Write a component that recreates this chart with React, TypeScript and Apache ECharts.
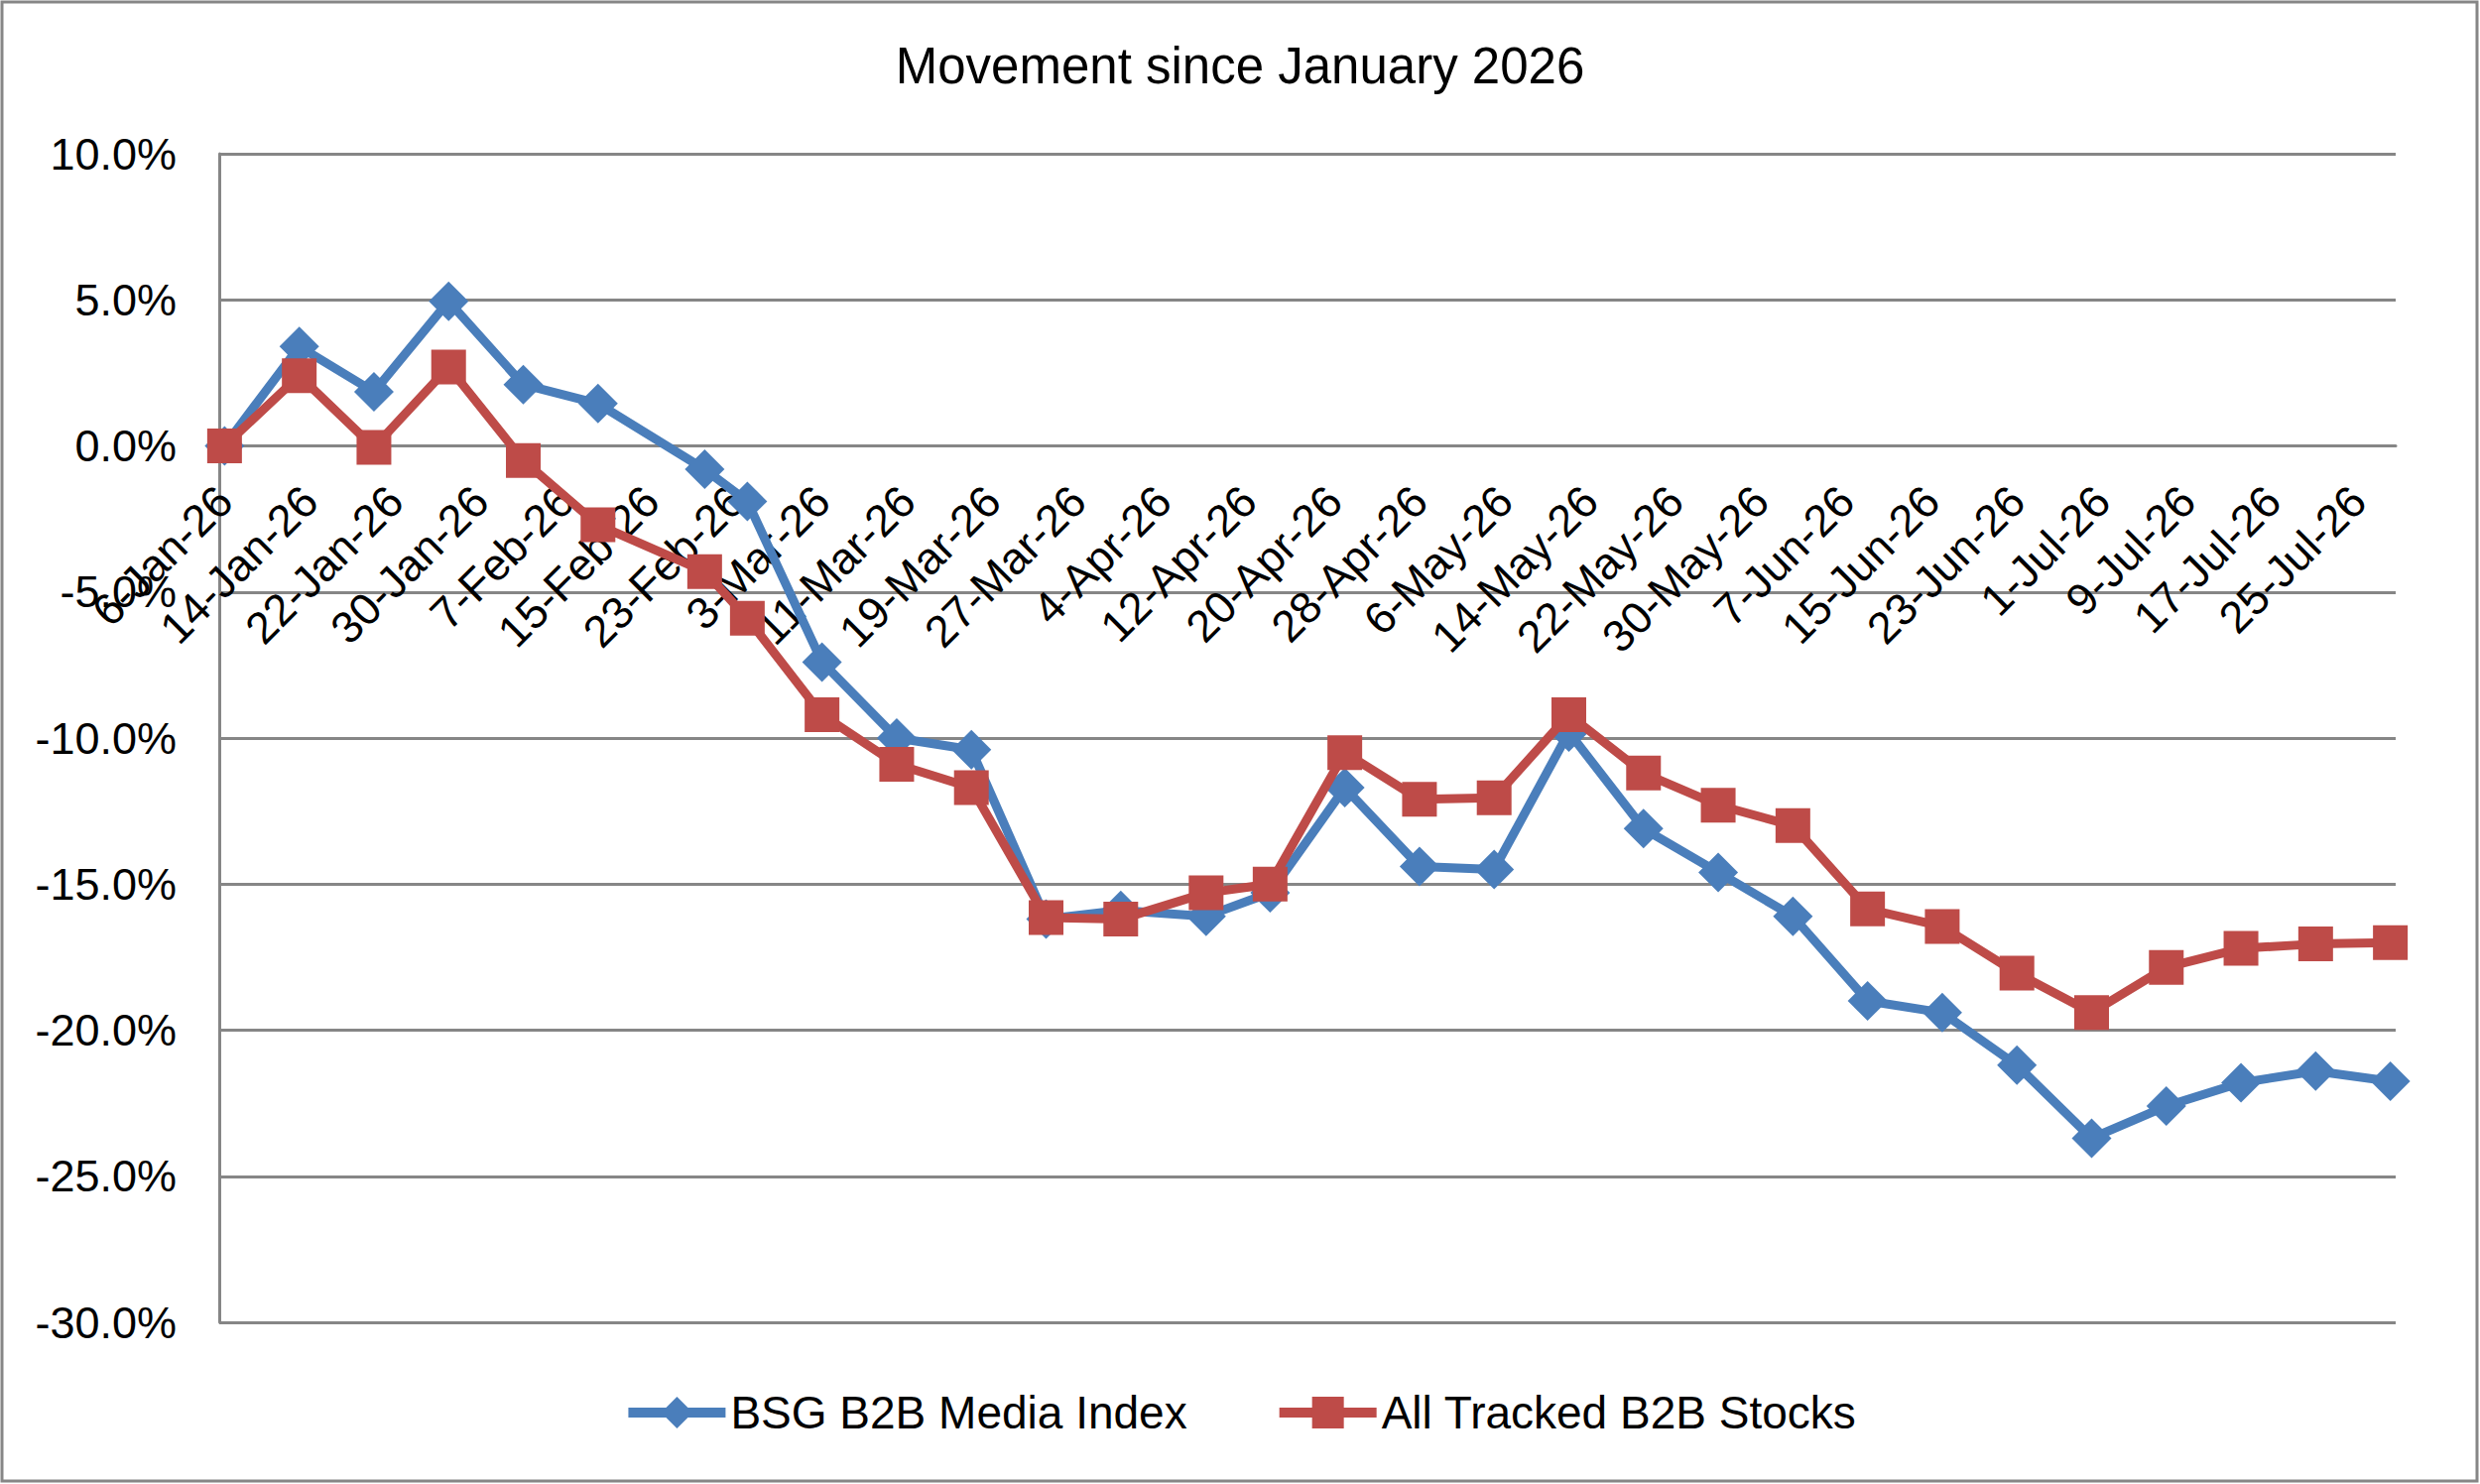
import React, { useEffect, useRef } from 'react'
import * as echarts from 'echarts'

// weekly observation dates
const dates = [
  '2026-01-06', '2026-01-13', '2026-01-20', '2026-01-27', '2026-02-03', '2026-02-10',
  '2026-02-20', '2026-02-24', '2026-03-03', '2026-03-10', '2026-03-17', '2026-03-24',
  '2026-03-31', '2026-04-08', '2026-04-14', '2026-04-21', '2026-04-28', '2026-05-05',
  '2026-05-12', '2026-05-19', '2026-05-26', '2026-06-02', '2026-06-09', '2026-06-16',
  '2026-06-23', '2026-06-30', '2026-07-07', '2026-07-14', '2026-07-21', '2026-07-28'
]

const bsgIndex = [
  0, 3.4, 1.85, 4.95, 2.1, 1.45, -0.8, -1.9, -7.4, -10.0, -10.4, -16.2,
  -15.9, -16.1, -15.3, -11.7, -14.4, -14.5, -9.8, -13.1, -14.6, -16.1, -19.0, -19.4,
  -21.2, -23.7, -22.6, -21.8, -21.4, -21.75
]

const allTracked = [
  0, 2.4, -0.05, 2.7, -0.5, -2.7, -4.3, -5.9, -9.2, -10.9, -11.7, -16.15,
  -16.2, -15.3, -15.0, -10.5, -12.1, -12.05, -9.2, -11.2, -12.3, -13.0, -15.85, -16.45,
  -18.05, -19.4, -17.85, -17.2, -17.05, -17.0
]

const tickLabels = [
  '6-Jan-26', '14-Jan-26', '22-Jan-26', '30-Jan-26', '7-Feb-26', '15-Feb-26', '23-Feb-26',
  '3-Mar-26', '11-Mar-26', '19-Mar-26', '27-Mar-26', '4-Apr-26', '12-Apr-26', '20-Apr-26',
  '28-Apr-26', '6-May-26', '14-May-26', '22-May-26', '30-May-26', '7-Jun-26', '15-Jun-26',
  '23-Jun-26', '1-Jul-26', '9-Jul-26', '17-Jul-26', '25-Jul-26'
]

const Y_MIN = -30
const Y_MAX = 10

const MONTHS = ['Jan', 'Feb', 'Mar', 'Apr', 'May', 'Jun', 'Jul', 'Aug', 'Sep', 'Oct', 'Nov', 'Dec']
const START = Date.UTC(2026, 0, 6)
const DAY = 86400000

const isoToDay = (s: string) => {
  const [y, m, d] = s.split('-').map(Number)
  return (Date.UTC(y, m - 1, d) - START) / DAY
}
const labelToDay = (s: string) => {
  const [d, mon, yy] = s.split('-')
  return (Date.UTC(2000 + Number(yy), MONTHS.indexOf(mon), Number(d)) - START) / DAY
}

const FONT = '"Liberation Sans", Arial, sans-serif'
const GRID_COLOR = '#868686'
const BLUE = '#4a7ebb'
const RED = '#be4b48'

const GRID_TOP = 155
const GRID_BOTTOM = 163
const H = 1496

const App: React.FC = () => {
  const chartRef = useRef<HTMLDivElement>(null)

  useEffect(() => {
    document.body.style.margin = '0'
    if (!chartRef.current) return
    const chart = echarts.init(chartRef.current, undefined, { renderer: 'svg' })

    const days = dates.map(isoToDay)
    const tickDays = tickLabels.map(labelToDay)

    // the date axis crosses the value axis at 0%
    const plotH = H - GRID_TOP - GRID_BOTTOM
    const zeroOffset = -plotH * (0 - Y_MIN) / (Y_MAX - Y_MIN)

    const option: echarts.EChartsOption = {
      animation: false,
      backgroundColor: '#ffffff',
      textStyle: { fontFamily: FONT },
      title: {
        text: 'Movement since January 2026',
        left: 'center',
        top: 41,
        padding: 0,
        textStyle: { fontFamily: FONT, fontSize: 51, fontWeight: 'normal', color: '#000', lineHeight: 51 }
      },
      graphic: [
        {
          type: 'rect',
          shape: { x: 2, y: 2, width: 2495, height: 1491 },
          style: { fill: 'none', stroke: GRID_COLOR, lineWidth: 3 },
          silent: true
        }
      ],
      grid: { left: 221, right: 85, top: GRID_TOP, bottom: GRID_BOTTOM, outerBoundsMode: 'none' } as any,
      legend: {
        top: 1396,
        left: 'center',
        itemWidth: 98,
        itemHeight: 40,
        itemGap: 88,
        lineStyle: { width: 10 },
        textStyle: { fontFamily: FONT, fontSize: 46, color: '#000' },
        data: ['BSG B2B Media Index', 'All Tracked B2B Stocks']
      },
      xAxis: {
        type: 'value',
        min: -0.5,
        max: 203.5,
        offset: zeroOffset,
        splitLine: { show: false },
        axisTick: { show: false },
        axisLine: { show: true, onZero: false, lineStyle: { color: GRID_COLOR, width: 3 } },
        axisLabel: {
          customValues: tickDays,
          rotate: 45,
          margin: 48,
          fontFamily: FONT,
          fontSize: 45,
          color: '#000',
          formatter: (v: number) => {
            const i = tickDays.indexOf(v)
            return i >= 0 ? tickLabels[i] : ''
          }
        } as any
      },
      yAxis: {
        type: 'value',
        min: Y_MIN,
        max: Y_MAX,
        interval: 5,
        axisLine: { show: true, onZero: false, lineStyle: { color: GRID_COLOR, width: 3 } },
        axisTick: { show: false },
        splitLine: { show: true, lineStyle: { color: GRID_COLOR, width: 3 } },
        axisLabel: {
          margin: 43,
          fontFamily: FONT,
          fontSize: 45,
          color: '#000',
          formatter: (v: number) => `${v.toFixed(1)}%`
        }
      },
      series: [
        {
          type: 'line',
          name: 'BSG B2B Media Index',
          data: days.map((d, i) => [d, bsgIndex[i]]),
          symbol: 'diamond',
          symbolSize: 40,
          lineStyle: { color: BLUE, width: 9 },
          itemStyle: { color: BLUE },
          z: 3
        },
        {
          type: 'line',
          name: 'All Tracked B2B Stocks',
          data: days.map((d, i) => [d, allTracked[i]]),
          symbol: 'rect',
          symbolSize: 35,
          lineStyle: { color: RED, width: 9 },
          itemStyle: { color: RED },
          z: 4
        }
      ]
    }

    chart.setOption(option)
    return () => {
      chart.dispose()
    }
  }, [])

  return <div ref={chartRef} style={{ width: '2500px', height: '1496px' }} />
}

export default App
